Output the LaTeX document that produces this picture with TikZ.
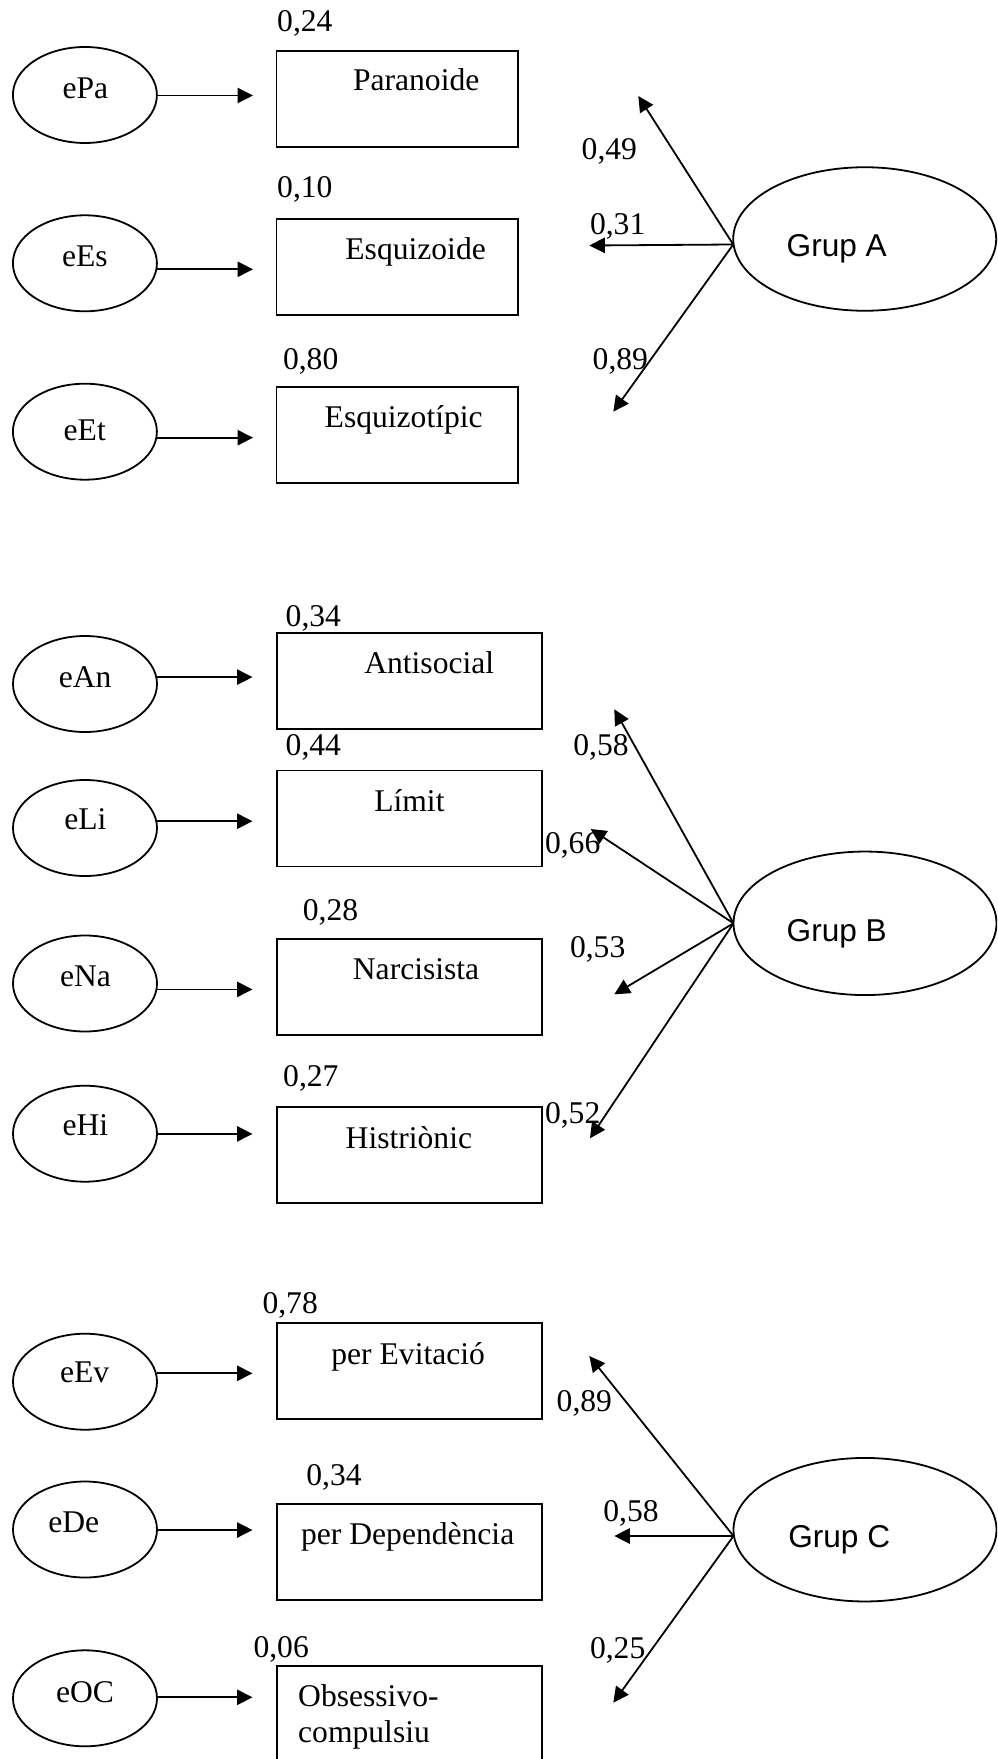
\documentclass[tikz,border=0pt]{standalone}
\usepackage{fontspec}
\setmainfont{Liberation Serif}
\newfontfamily\grupfont{Liberation Sans}
\usetikzlibrary{shapes.geometric,arrows.meta,calc}
\begin{document}
\begin{tikzpicture}[x=0.5pt,y=-0.5pt,
  line width=0.9pt,
  every node/.style={inner sep=0pt, outer sep=0pt},
  txt/.style={anchor=base west, font=\fontsize{15.8}{19}\selectfont},
  gtxt/.style={anchor=base west, font=\grupfont\fontsize{15.8}{19}\selectfont},
  errnode/.style={draw, ellipse, minimum width=72pt, minimum height=48pt},
  latent/.style={draw, ellipse, minimum width=131.5pt, minimum height=71.75pt},
  boxA/.style={draw, rectangle, minimum width=120.85pt, minimum height=48pt},
  boxB/.style={draw, rectangle, minimum width=132.5pt, minimum height=48pt},
  arr/.style={-{Triangle[length=7.75pt,width=7.65pt]}},
]
\useasboundingbox (0,0) rectangle (997,1759);
\clip (0,0) rectangle (997,1759);

% ---------------- Grup A ----------------
\node[errnode] (ePa) at (84.9,95) {};
\node[errnode] (eEs) at (84.9,263.3) {};
\node[errnode] (eEt) at (84.9,431.7) {};
\node[txt] (lPa) at (62.5,98.5) {ePa};
\node[txt] (lEs) at (62,266.7) {eEs};
\node[txt] (lEt) at (63.7,440.7) {eEt};

\node[boxA] (bPa) at (397.35,98.7) {};
\node[boxA] (bEs) at (397.35,267) {};
\node[boxA] (bEt) at (397.35,435) {};
\node[txt] (nPa) at (353,90.7) {Paranoide};
\node[txt] (nEs) at (345.4,259.3) {Esquizoide};
\node[txt] (nEt) at (324.7,427.7) {Esquizotípic};
\node[txt] (rPa) at (277.2,31.7) {0,24};
\node[txt] (rEs) at (277.2,197.7) {0,10};
\node[txt] (rEt) at (283,369.3) {0,80};

\coordinate (tPa) at (253,95.5);
\coordinate (tEs) at (253,269.3);
\coordinate (tEt) at (253,437.7);
\draw[arr] (ePa.east |- tPa) -- (tPa);
\draw[arr] (eEs.east |- tEs) -- (tEs);
\draw[arr] (eEt.east |- tEt) -- (tEt);

\node[latent] (gA) at (864.7,239) {};
\node[gtxt] (gAt) at (786.7,256.7) {Grup A};
\coordinate (oA) at ($(gA.west)+(0,5.5)$);
\coordinate (kA1) at (638.3,96);
\coordinate (kA2) at (589.3,245.5);
\coordinate (kA3) at (613.3,411.7);
\draw[arr] (oA) -- (kA1);
\draw[arr] (oA) -- (kA2);
\draw[arr] (oA) -- (kA3);
\node[txt] (wA1) at (581.7,160) {0,49};
\node[txt] (wA2) at (590,234.5) {0,31};
\node[txt] (wA3) at (592.7,369.3) {0,89};

% ---------------- Grup B ----------------
\node[errnode] (eAn) at (85,684) {};
\node[errnode] (eLi) at (85,828) {};
\node[errnode] (eNa) at (85,983.5) {};
\node[errnode] (eHi) at (85,1133.7) {};
\node[txt] (lAn) at (58.9,687) {eAn};
\node[txt] (lLi) at (64.3,829.8) {eLi};
\node[txt] (lNa) at (60,986.9) {eNa};
\node[txt] (lHi) at (62.5,1135.9) {eHi};

\node[boxB] (bAn) at (409.3,680.6) {};
\node[boxB] (bLi) at (409.3,818.55) {};
\node[boxB] (bNa) at (409.3,986.75) {};
\node[boxB] (bHi) at (409.3,1154.9) {};
\node[txt] (nAn) at (364.3,673.9) {Antisocial};
\node[txt] (nLi) at (374.3,811.8) {Límit};
\node[txt] (nNa) at (352.9,979.2) {Narcisista};
\node[txt] (nHi) at (345.7,1148.2) {Histriònic};
\node[txt] (rAn) at (285.7,626.1) {0,34};
\node[txt] (rLi) at (285.7,755.5) {0,44};
\node[txt] (rNa) at (302.9,920.8) {0,28};
\node[txt] (rHi) at (283.2,1086.1) {0,27};

\coordinate (tAn) at (252.5,677.1);
\coordinate (tLi) at (252.5,821.2);
\coordinate (tNa) at (252.5,989.4);
\coordinate (tHi) at (252.5,1133.9);
\draw[arr] (eAn.east |- tAn) -- (tAn);
\draw[arr] (eLi.east |- tLi) -- (tLi);
\draw[arr] (eNa.east |- tNa) -- (tNa);
\draw[arr] (eHi.east |- tHi) -- (tHi);

\node[latent] (gB) at (865,923.3) {};
\node[gtxt] (gBt) at (786.7,941) {Grup B};
\coordinate (oB) at (gB.west);
\coordinate (kB1) at (614.3,709.3);
\coordinate (kB2) at (590.7,829);
\coordinate (kB3) at (614.3,994.3);
\coordinate (kB4) at (590,1138.3);
\draw[arr] (oB) -- (kB1);
\draw[arr] (oB) -- (kB2);
\draw[arr] (oB) -- (kB3);
\draw[arr] (oB) -- (kB4);
\node[txt] (wB1) at (573.3,755) {0,58};
\node[txt] (wB2) at (545,853.3) {0,66};
\node[txt] (wB3) at (570,957.7) {0,53};
\node[txt] (wB4) at (545,1123.3) {0,52};

% ---------------- Grup C ----------------
\node[errnode] (eEv) at (85,1381.7) {};
\node[errnode] (eDe) at (85,1529.5) {};
\node[errnode] (eOC) at (85,1698.3) {};
\node[txt] (lEv) at (60,1382.7) {eEv};
\node[txt] (lDe) at (48.3,1532.7) {eDe};
\node[txt] (lOC) at (56,1702.7) {eOC};

\node[boxB] (bEv) at (409.3,1371) {};
\node[boxB] (bDe) at (409.3,1551.65) {};
\node[boxB] (bOC) at (409.3,1713.7) {};
\node[txt] (nEv) at (331.4,1364.3) {per Evitació};
\node[txt] (nDe) at (301.1,1544.3) {per Dependència};
\node[txt] (nOC1) at (298.2,1706.7) {Obsessivo-};
\node[txt] (nOC2) at (298.2,1742.5) {compulsiu};
\node[txt] (rEv) at (262.5,1313.3) {0,78};
\node[txt] (rDe) at (306.4,1485) {0,34};
\node[txt] (rOC) at (253.5,1657.7) {0,06};

\coordinate (tEv) at (252.5,1373.3);
\coordinate (tDe) at (252.5,1530);
\coordinate (tOC) at (252.5,1697.3);
\draw[arr] (eEv.east |- tEv) -- (tEv);
\draw[arr] (eDe.east |- tDe) -- (tDe);
\draw[arr] (eOC.east |- tOC) -- (tOC);

\node[latent] (gC) at (865,1529.7) {};
\node[gtxt] (gCt) at (788.3,1547.7) {Grup C};
\coordinate (oC) at ($(gC.west)+(0,6.3)$);
\coordinate (kC1) at (589.3,1356);
\coordinate (kC2) at (614.3,1536);
\coordinate (kC3) at (613.3,1702.7);
\draw[arr] (oC) -- (kC1);
\draw[arr] (oC) -- (kC2);
\draw[arr] (oC) -- (kC3);
\node[txt] (wC1) at (556.7,1411.7) {0,89};
\node[txt] (wC2) at (603.3,1521.7) {0,58};
\node[txt] (wC3) at (590,1658.3) {0,25};
\end{tikzpicture}
\end{document}
